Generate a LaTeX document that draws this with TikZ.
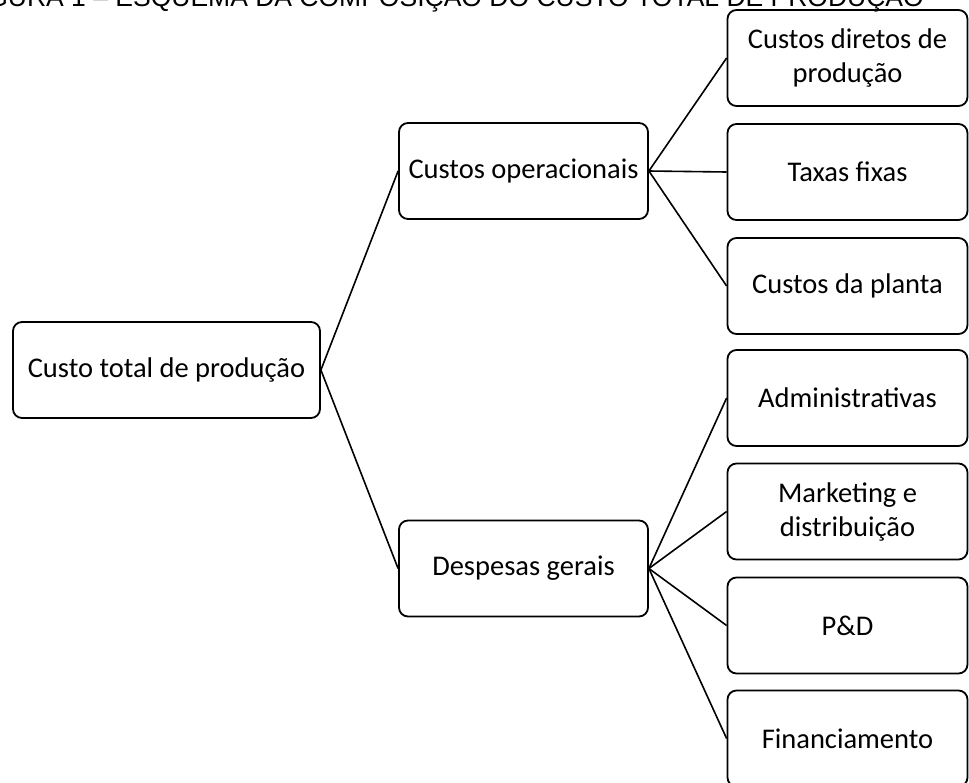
\documentclass[tikz,border=0pt]{standalone}
\usepackage{fontspec}
\setmainfont{Carlito}
\newfontfamily\titlefont{Liberation Sans}
\usepackage{tikz}

\begin{document}
\begin{tikzpicture}[x=1pt, y=-1pt,
		box/.style={draw, line width=1.8pt, rounded corners=9pt, align=center,
			font=\fontsize{28.5}{34}\selectfont, inner sep=2pt},
		root/.style={box, minimum width=307pt, minimum height=96pt},
		mid/.style={box, minimum width=249pt, minimum height=96pt},
		leaf/.style={box, minimum width=240pt, minimum height=96pt},
		link/.style={line width=1.6pt}]
		\useasboundingbox (0, 0) rectangle (969, 782);
		\clip (0, 0) rectangle (969, 782);
		% title, cut at the top of the page
		\node[anchor=base east, inner sep=0pt, font=\titlefont\fontsize{26.5}{30}\selectfont]
			(Title) at (924, 6.5) {FIGURA 1 – ESQUEMA DA COMPOSIÇÃO DO CUSTO TOTAL DE PRODUÇÃO};
		\node[root] (Total) at (166.5, 370) {Custo total de produção};
		\node[mid] (Oper) at (523.5, 171) {Custos operacionais};
		\node[mid] (Desp) at (523.5, 568.5) {Despesas gerais};
		\node[leaf] (Diretos) at (847.5, 58) {Custos diretos de\\produção};
		\node[leaf] (Taxas) at (847.5, 172) {Taxas fixas};
		\node[leaf] (Planta) at (847.5, 286) {Custos da planta};
		\node[leaf] (Admin) at (847.5, 398) {Administrativas};
		\node[leaf] (Mkt) at (847.5, 511.5) {Marketing e\\distribuição};
		\node[leaf] (PD) at (847.5, 625.5) {P\&D};
		\node[leaf] (Fin) at (847.5, 738.5) {Financiamento};
		\draw[link] (Total.east) -- (Oper.west);
		\draw[link] (Total.east) -- (Desp.west);
		\draw[link] (Oper.east) -- (Diretos.west);
		\draw[link] (Oper.east) -- (Taxas.west);
		\draw[link] (Oper.east) -- (Planta.west);
		\draw[link] (Desp.east) -- (Admin.west);
		\draw[link] (Desp.east) -- (Mkt.west);
		\draw[link] (Desp.east) -- (PD.west);
		\draw[link] (Desp.east) -- (Fin.west);
	\end{tikzpicture}
\end{document}
